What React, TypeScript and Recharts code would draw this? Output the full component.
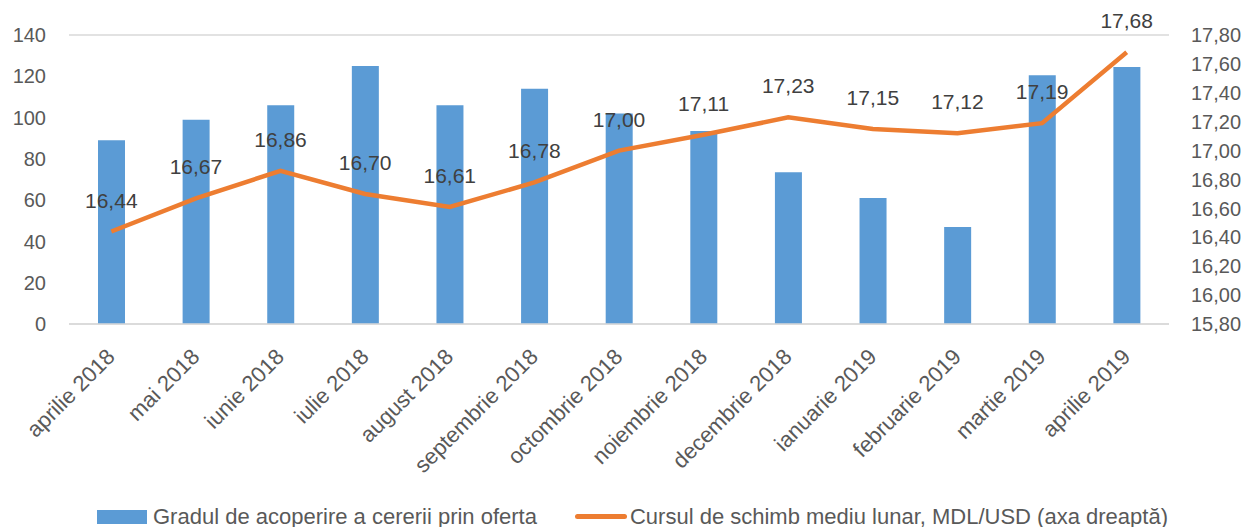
import React from "react";
import {
  Bar,
  CartesianGrid,
  ComposedChart,
  LabelList,
  Legend,
  Line,
  XAxis,
  YAxis,
} from "recharts";

const months = [
  "aprilie 2018",
  "mai 2018",
  "iunie 2018",
  "iulie 2018",
  "august 2018",
  "septembrie 2018",
  "octombrie 2018",
  "noiembrie 2018",
  "decembrie 2018",
  "ianuarie 2019",
  "februarie 2019",
  "martie 2019",
  "aprilie 2019",
];

const coverage = [89, 99, 106, 125, 106, 114, 102, 93.5, 73.5, 61, 47, 120.5, 124.5];
const rate = [16.44, 16.67, 16.86, 16.7, 16.61, 16.78, 17.0, 17.11, 17.23, 17.15, 17.12, 17.19, 17.68];

const leftTicks = [0, 20, 40, 60, 80, 100, 120, 140];
const rightTicks = [15.8, 16.0, 16.2, 16.4, 16.6, 16.8, 17.0, 17.2, 17.4, 17.6, 17.8];

const barName = "Gradul de acoperire a cererii prin oferta";
const lineName = "Cursul de schimb mediu lunar, MDL/USD (axa dreaptă)";

const FONT = '"Liberation Sans", Arial, sans-serif';
const BLUE = "#5B9BD5";
const ORANGE = "#ED7D31";

const rows = months.map((m, i) => ({ month: m, coverage: coverage[i], rate: rate[i] }));

const comma = (v: number) => v.toFixed(2).replace(".", ",");

function MonthTick({ x, y, payload }: { x?: number; y?: number; payload?: { value: string } }) {
  return (
    <g transform={`translate(${x},${y})`}>
      <text
        x={-15}
        y={22}
        transform="rotate(-45)"
        textAnchor="end"
        fill="#595959"
        fontSize={22}
        fontFamily={FONT}
      >
        {payload?.value}
      </text>
    </g>
  );
}

function LegendBody() {
  return (
    <div
      style={{
        display: "flex",
        alignItems: "center",
        fontFamily: FONT,
        fontSize: 22,
        color: "#595959",
        paddingLeft: 97,
        height: 53,
        boxSizing: "border-box",
        paddingTop: 32,
        whiteSpace: "nowrap",
      }}
    >
      <span style={{ display: "inline-block", width: 50, height: 14, background: BLUE, marginRight: 6 }} />
      <span>{barName}</span>
      <span
        style={{
          display: "inline-block",
          width: 52,
          height: 5,
          borderRadius: 3,
          background: ORANGE,
          marginLeft: 38,
          marginRight: 3,
        }}
      />
      <span>{lineName}</span>
    </div>
  );
}

export default function App() {
  return (
    <div style={{ position: "absolute", left: 0, top: 0, width: 1248, height: 527, background: "#fff" }}>
      <ComposedChart width={1248} height={527} data={rows} margin={{ top: 35, right: 0, left: 0, bottom: 0 }}>
        <CartesianGrid vertical={false} stroke="#D9D9D9" strokeWidth={1.5} />
        <XAxis
          dataKey="month"
          interval={0}
          height={150}
          tick={<MonthTick />}
          tickLine={false}
          axisLine={{ stroke: "#D9D9D9", strokeWidth: 1.5 }}
        />
        <YAxis
          yAxisId="left"
          orientation="left"
          width={69}
          domain={[0, 140]}
          ticks={leftTicks}
          tickLine={false}
          axisLine={false}
          tickMargin={17}
          tick={{ fill: "#595959", fontSize: 20, fontFamily: FONT }}
        />
        <YAxis
          yAxisId="right"
          orientation="right"
          width={79}
          domain={[15.8, 17.8]}
          ticks={rightTicks}
          tickFormatter={comma}
          tickLine={false}
          axisLine={false}
          tickMargin={16}
          tick={{ fill: "#595959", fontSize: 20, fontFamily: FONT }}
        />
        <Bar yAxisId="left" dataKey="coverage" name={barName} fill={BLUE} barSize={27} isAnimationActive={false} />
        <Line
          yAxisId="right"
          dataKey="rate"
          name={lineName}
          stroke={ORANGE}
          strokeWidth={4.5}
          dot={false}
          activeDot={false}
          isAnimationActive={false}
        >
          <LabelList
            dataKey="rate"
            position="top"
            offset={24}
            formatter={(v: number) => comma(v)}
            fill="#404040"
            fontSize={21}
            fontFamily={FONT}
          />
        </Line>
        <Legend verticalAlign="bottom" height={53} content={<LegendBody />} />
      </ComposedChart>
    </div>
  );
}
